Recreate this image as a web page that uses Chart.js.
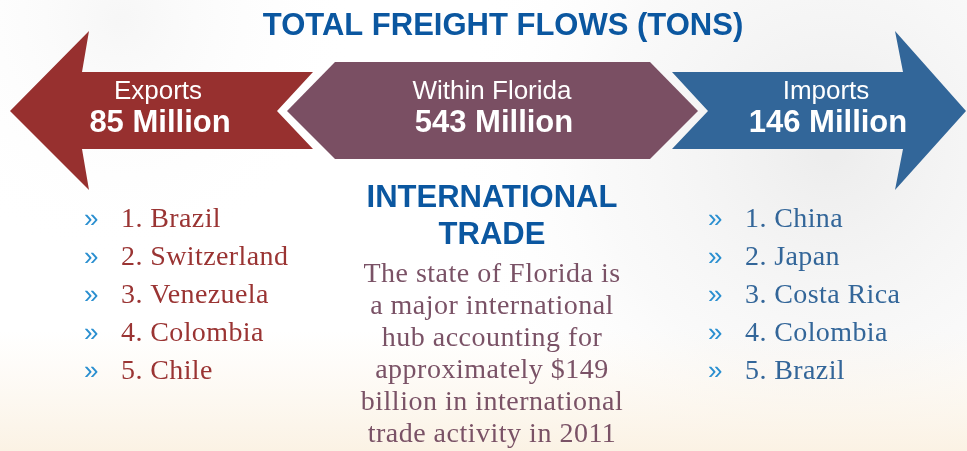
<!DOCTYPE html>
<html>
<head>
<meta charset="utf-8">
<script src="https://cdn.jsdelivr.net/npm/chart.js@4.4.1/dist/chart.umd.min.js"></script>
<style>
html, body { margin: 0; padding: 0; background: #fff; overflow: hidden; }
</style>
</head>
<body>
<canvas id="myChart" width="967" height="451"></canvas>
<script>
const ctx = document.getElementById("myChart");

// freight flows, million tons
const flowNames = ["Exports", "Within Florida", "Imports"];
const flowValues = [85, 543, 146];
const exportPartners = ["Brazil", "Switzerland", "Venezuela", "Colombia", "Chile"];
const importPartners = ["China", "Japan", "Costa Rica", "Colombia", "Brazil"];
const tradeLines = [
    "The state of Florida is",
    "a major international",
    "hub accounting for",
    "approximately $149",
    "billion in international",
    "trade activity in 2011"
];

const flowColors = ["#97302f", "#7a4f63", "#326699"];
const sans = "'Liberation Sans', Arial, sans-serif";
const serif = "'Liberation Serif', 'Times New Roman', serif";

// arrow outlines
const shapes = [
    [[10,111],[89,31],[82,72],[313,72],[277,111],[313,149],[82,149],[89,190]],
    [[287,111],[335,62],[650,62],[698,111],[650,159],[335,159]],
    [[672,72],[708,111],[672,149],[903,149],[895,190],[966,111],[895,31],[903,72]]
];
const labelX = [158, 492, 826];

const infographic = {
    id: "infographic",
    beforeDraw(chart) {
        const c = chart.ctx;
        const w = chart.width, h = chart.height;
        c.save();
        c.fillStyle = "#ffffff";
        c.fillRect(0, 0, w, h);
        let g = c.createRadialGradient(830, 150, 10, 830, 150, 380);
        g.addColorStop(0, "rgba(210,210,210,0.4)");
        g.addColorStop(0.6, "rgba(228,228,228,0.2)");
        g.addColorStop(1, "rgba(255,255,255,0)");
        c.fillStyle = g;
        c.fillRect(0, 0, w, h);
        g = c.createRadialGradient(120, 20, 5, 120, 20, 240);
        g.addColorStop(0, "rgba(228,228,228,0.3)");
        g.addColorStop(1, "rgba(255,255,255,0)");
        c.fillStyle = g;
        c.fillRect(0, 0, w, h);
        g = c.createLinearGradient(0, 330, 0, h);
        g.addColorStop(0, "rgba(252,245,234,0)");
        g.addColorStop(1, "rgba(251,242,228,1)");
        c.fillStyle = g;
        c.fillRect(0, 330, w, h - 330);
        c.restore();
    },
    afterDraw(chart) {
        const c = chart.ctx;
        c.save();
        // arrows
        shapes.forEach((pts, i) => {
            c.beginPath();
            pts.forEach((p, k) => k ? c.lineTo(p[0], p[1]) : c.moveTo(p[0], p[1]));
            c.closePath();
            c.fillStyle = flowColors[i];
            c.fill();
        });
        c.textAlign = "center";
        c.textBaseline = "alphabetic";
        // title
        c.fillStyle = "#0b57a0";
        c.font = "bold 31px " + sans;
        c.fillText("TOTAL FREIGHT FLOWS (TONS)", 503, 35);
        // arrow labels
        c.fillStyle = "#ffffff";
        flowNames.forEach((n, i) => {
            c.font = "26px " + sans;
            c.fillText(n, labelX[i], 99);
            c.font = "bold 31px " + sans;
            c.fillText(flowValues[i] + " Million", labelX[i] + 2, 132);
        });
        // centre block
        c.fillStyle = "#0b57a0";
        c.font = "bold 31px " + sans;
        c.fillText("INTERNATIONAL", 492, 207);
        c.fillText("TRADE", 492, 244);
        c.fillStyle = "#7a5266";
        c.font = "28px " + serif;
        c.letterSpacing = "0.5px";
        tradeLines.forEach((t, i) => c.fillText(t, 492, 282 + i * 32));
        // partner lists
        c.textAlign = "left";
        const lists = [
            {items: exportPartners, bx: 84, tx: 121, color: "#9a3433"},
            {items: importPartners, bx: 708, tx: 745, color: "#336699"}
        ];
        lists.forEach(l => {
            l.items.forEach((name, i) => {
                const y = 227 + i * 38;
                c.letterSpacing = "0px";
                c.fillStyle = "#2a8fd0";
                c.font = "26px " + sans;
                c.fillText("\u00bb", l.bx, y);
                c.letterSpacing = "0.4px";
                c.fillStyle = l.color;
                c.font = "28px " + serif;
                c.fillText((i + 1) + ". " + name, l.tx, y);
            });
        });
        c.restore();
    }
};

const config = {
    type: "bar",
    data: {
        labels: flowNames,
        datasets: [{
            label: "Million tons",
            data: flowValues,
            hidden: true
        }]
    },
    options: {
        responsive: false,
        animation: false,
        layout: { padding: 0 },
        plugins: {
            legend: { display: false },
            tooltip: { enabled: false },
            title: { display: false }
        },
        scales: {
            x: { display: false },
            y: { display: false }
        }
    },
    plugins: [infographic]
};

const myChart = new Chart(ctx, config);
</script>
</body>
</html>
